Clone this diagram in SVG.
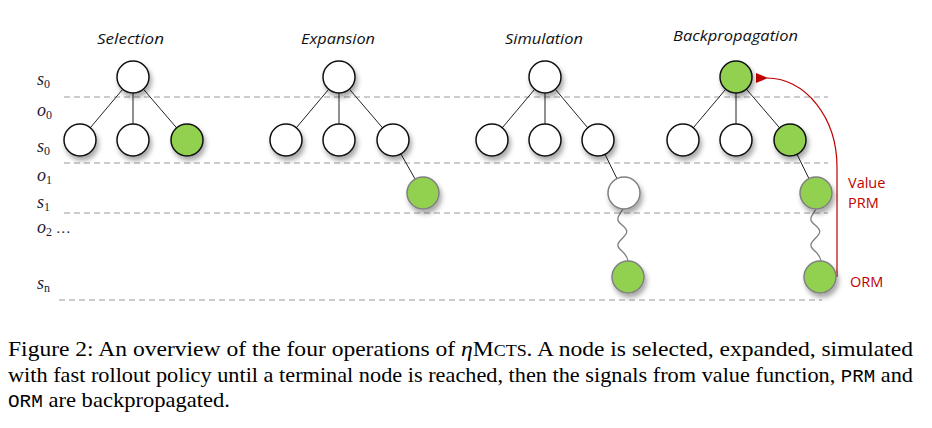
<svg xmlns="http://www.w3.org/2000/svg" width="932" height="428" viewBox="0 0 932 428">
<style>
.title{font-family:"Open Sans","Liberation Sans",sans-serif;font-style:italic;font-size:14.5px;fill:#111;}
.lab{font-family:"Liberation Serif",serif;font-style:italic;font-size:18px;fill:#1b1b33;}
.sub{font-size:12px;font-style:normal;}
.dash{stroke:#9a9a9a;stroke-width:1.2;stroke-dasharray:6 4;fill:none;}
.edge{stroke:#222;stroke-width:1;fill:none;}
.wave{stroke:#7f7f7f;stroke-width:1.3;fill:none;}
.n{stroke:#111;stroke-width:1.5;filter:url(#sh);}
.m{stroke:#808080;stroke-width:1.5;filter:url(#sh);}
.w{fill:#fff;}
.g{fill:#92d050;}
.red{font-family:"Open Sans","Liberation Sans",sans-serif;font-size:14.5px;fill:#c00000;}
.cap{font-family:"Liberation Serif",serif;font-size:21px;fill:#000;}
.tt{font-family:"Liberation Mono",monospace;font-size:18px;}
</style>
<defs>
<filter id="sh" x="-50%" y="-50%" width="200%" height="200%">
<feDropShadow dx="2" dy="4" stdDeviation="2.5" flood-color="#000" flood-opacity="0.35"/>
</filter>
<marker id="ah" viewBox="0 0 12 10" refX="1" refY="5" markerWidth="12" markerHeight="10" markerUnits="userSpaceOnUse" orient="auto">
<path d="M12,0 L0,5 L12,10 z" fill="#c00000"/>
</marker>
<path id="sq" d="M623,209 C619,215 616,219 619,222 C622,226 629,229 626,234 C623,239 615,243 619,248 C622,252 627,254 628,261"/>
</defs>

<g id="titles">
<text class="title" x="97" y="44" textLength="67" lengthAdjust="spacingAndGlyphs">Selection</text>
<text class="title" x="301" y="44" textLength="74" lengthAdjust="spacingAndGlyphs">Expansion</text>
<text class="title" x="505" y="44" textLength="78" lengthAdjust="spacingAndGlyphs">Simulation</text>
<text class="title" x="673" y="41" textLength="125" lengthAdjust="spacingAndGlyphs">Backpropagation</text>
</g>

<g id="levels">
<text class="lab" x="37" y="85">s<tspan class="sub" dy="3">0</tspan></text>
<text class="lab" x="37" y="116">o<tspan class="sub" dy="3">0</tspan></text>
<text class="lab" x="37" y="152">s<tspan class="sub" dy="3">0</tspan></text>
<text class="lab" x="37" y="181">o<tspan class="sub" dy="3">1</tspan></text>
<text class="lab" x="37" y="208">s<tspan class="sub" dy="3">1</tspan></text>
<text class="lab" x="37" y="233">o<tspan class="sub" dy="3">2</tspan><tspan dy="-3" font-style="normal" font-size="15"> …</tspan></text>
<text class="lab" x="37" y="289">s<tspan class="sub" dy="3">n</tspan></text>
<line class="dash" x1="64" y1="97" x2="828" y2="97"/>
<line class="dash" x1="64" y1="163" x2="828" y2="163"/>
<line class="dash" x1="64" y1="213" x2="828" y2="213"/>
<line class="dash" x1="59" y1="300" x2="822" y2="300"/>
</g>

<g id="connectors">
<path class="edge" d="M133,77 L80,140 M133,77 L133,140 M133,77 L187,140"/>
<path class="edge" d="M339,77 L286,140 M339,77 L339,140 M339,77 L393,140 M393,140 L423,193"/>
<path class="edge" d="M545,77 L492,140 M545,77 L545,140 M545,77 L598,140 M598,140 L624,193"/>
<path class="edge" d="M736,77 L683,140 M736,77 L736,140 M736,77 L790,140 M790,140 L816,193"/>
<use href="#sq" class="wave"/>
<use href="#sq" class="wave" transform="translate(193,0)"/>
<path d="M837,277 V167 A70,89 0 0 0 767,78" fill="none" stroke="#c00000" stroke-width="1.2" marker-end="url(#ah)"/>
</g>

<g id="selection">
<circle class="n w" cx="133" cy="77" r="16"/>
<circle class="n w" cx="80" cy="140" r="16"/>
<circle class="n w" cx="133" cy="140" r="16"/>
<circle class="n g" cx="187" cy="140" r="16"/>
</g>
<g id="expansion">
<circle class="n w" cx="339" cy="77" r="16"/>
<circle class="n w" cx="286" cy="140" r="16"/>
<circle class="n w" cx="339" cy="140" r="16"/>
<circle class="n w" cx="393" cy="140" r="16"/>
<circle class="m g" cx="423" cy="193" r="16"/>
</g>
<g id="simulation">
<circle class="n w" cx="545" cy="77" r="16"/>
<circle class="n w" cx="492" cy="140" r="16"/>
<circle class="n w" cx="545" cy="140" r="16"/>
<circle class="n w" cx="598" cy="140" r="16"/>
<circle class="m w" cx="624" cy="193" r="16"/>
<circle class="m g" cx="628" cy="277" r="16"/>
</g>
<g id="backpropagation">
<circle class="n g" cx="736" cy="77" r="16"/>
<circle class="n w" cx="683" cy="140" r="16"/>
<circle class="n w" cx="736" cy="140" r="16"/>
<circle class="n g" cx="790" cy="140" r="16"/>
<circle class="m g" cx="816" cy="193" r="16"/>
<circle class="m g" cx="820" cy="277" r="16"/>
</g>

<g id="signals">
<text class="red" x="848" y="188">Value</text>
<text class="red" x="848" y="208">PRM</text>
<text class="red" x="850" y="287">ORM</text>
</g>

<g id="caption">
<text class="cap" x="8" y="356" textLength="905" lengthAdjust="spacingAndGlyphs">Figure 2: An overview of the four operations of <tspan font-style="italic">η</tspan>M<tspan font-size="16">CTS</tspan>. A node is selected, expanded, simulated</text>
<text class="cap" x="8" y="382" textLength="905" lengthAdjust="spacingAndGlyphs">with fast rollout policy until a terminal node is reached, then the signals from value function, <tspan class="tt">PRM</tspan> and</text>
<text class="cap" x="8" y="407" textLength="222" lengthAdjust="spacingAndGlyphs"><tspan class="tt">ORM</tspan> are backpropagated.</text>
</g>
</svg>
